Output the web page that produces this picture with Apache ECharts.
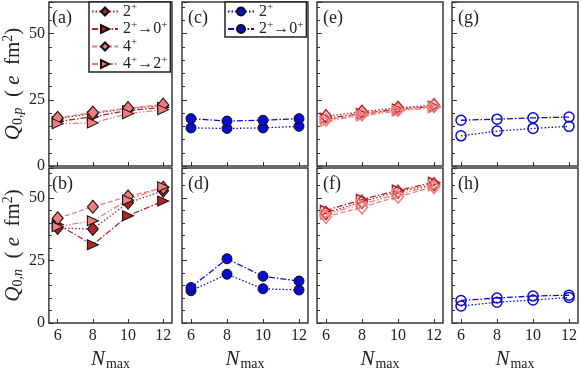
<!DOCTYPE html>
<html>
<head>
<meta charset="utf-8">
<script src="https://cdn.jsdelivr.net/npm/echarts@6/dist/echarts.min.js"></script>
<style>
html, body { margin: 0; padding: 0; background: #fff; }
#chart { width: 581px; height: 372px; }
</style>
</head>
<body>
<div id="chart"></div>
<script>
// N_max values and tick labels
const nmax = [6, 8, 10, 12];
const panelTags = ['(a)', '(c)', '(e)', '(g)', '(b)', '(d)', '(f)', '(h)'];

// proton quadrupole moments (top row)
const aQ2 = [17.9, 19.9, 21.7, 22.9];
const aQ20 = [16.8, 18.6, 21.0, 22.2];
const aQ4 = [18.2, 20.2, 21.9, 23.2];
const aQ42 = [16.0, 16.3, 19.8, 21.3];
const cQ2 = [14.4, 14.2, 14.4, 15.0];
const cQ20 = [17.9, 17.0, 17.3, 17.9];
const eQ2 = [18.8, 20.5, 22.0, 23.0];
const eQ20 = [18.0, 19.8, 21.5, 22.5];
const eQ4 = [17.5, 19.5, 21.2, 22.6];
const eQ42 = [17.0, 19.0, 20.8, 22.1];
const gQ2 = [11.4, 13.2, 14.2, 15.0];
const gQ20 = [17.3, 17.7, 18.2, 18.5];

// neutron quadrupole moments (bottom row)
const bQ2 = [38.0, 37.6, 48.1, 52.9];
const bQ20 = [39.4, 31.3, 42.9, 48.8];
const bQ4 = [41.9, 46.5, 50.6, 54.1];
const bQ42 = [38.5, 40.9, 49.2, 54.5];
const dQ2 = [12.9, 19.5, 13.7, 13.2];
const dQ20 = [14.2, 25.7, 18.7, 16.8];
const fQ2 = [44.0, 48.5, 52.5, 55.5];
const fQ20 = [45.0, 49.4, 53.1, 56.2];
const fQ4 = [42.5, 46.3, 50.6, 54.4];
const fQ42 = [43.5, 47.5, 51.5, 55.0];
const hQ2 = [6.8, 8.3, 9.2, 10.2];
const hQ20 = [9.0, 10.0, 10.8, 11.1];

const FONT = "'Liberation Serif', serif";
const INK = '#222';
const darkRed = '#b42328';
const lightRed = '#f07c7c';
const blue = '#0b0bd0';

const lefts = [46, 182, 317, 452];
const W = 126;

const grids = [], xAxes = [], yAxes = [], titles = [];
for (let r = 0; r < 2; r++) {
  for (let c = 0; c < 4; c++) {
    const gi = r * 4 + c;
    const top = r === 0 ? 2 : 168;
    const h = r === 0 ? 164 : 166;
    grids.push({ left: lefts[c], top: top, width: W, height: h, show: true,
      borderColor: '#3a3a3a', borderWidth: 1.5, backgroundColor: 'transparent' });
    xAxes.push({
      type: 'value', gridIndex: gi, min: 5.5, max: 12.5,
      axisLine: { show: false },
      splitLine: { show: false },
      axisTick: { show: true, inside: true, length: 4, customValues: nmax,
        lineStyle: { color: '#333', width: 1 } },
      axisLabel: { show: r === 1, customValues: nmax, fontFamily: FONT, fontSize: 16,
        color: INK, margin: 5 },
      name: r === 1 ? '{i|N}{s|max}' : '',
      nameLocation: 'middle', nameGap: 25,
      nameTextStyle: { rich: {
        i: { fontFamily: FONT, fontStyle: 'italic', fontSize: 21, color: INK },
        s: { fontFamily: FONT, fontSize: 14, color: INK, padding: [9, 0, 0, 1] }
      } }
    });
    yAxes.push({
      type: 'value', gridIndex: gi, min: 0, max: 62, interval: 25,
      axisLine: { show: false },
      splitLine: { show: false },
      axisTick: { show: true, inside: true, length: 5, lineStyle: { color: '#333', width: 1 } },
      minorTick: { show: true, splitNumber: 5, length: 3, lineStyle: { color: '#333', width: 1 } },
      axisLabel: { show: c === 0, showMaxLabel: false, fontFamily: FONT, fontSize: 16,
        color: INK, margin: 4 },
      name: c === 0 ? (r === 0 ? '{i|Q}{s|0,}{si|p}{t|  ( }{i|e}{t|  fm}{p|2}{t|)}'
                                : '{i|Q}{s|0,}{si|n}{t|  ( }{i|e}{t|  fm}{p|2}{t|)}') : '',
      nameLocation: 'middle', nameRotate: 90, nameGap: 20,
      nameTextStyle: { rich: {
        i: { fontFamily: FONT, fontStyle: 'italic', fontSize: 21, color: INK },
        t: { fontFamily: FONT, fontSize: 21, color: INK },
        s: { fontFamily: FONT, fontSize: 14, color: INK, padding: [10, 0, 0, 0] },
        si: { fontFamily: FONT, fontStyle: 'italic', fontSize: 14, color: INK, padding: [10, 0, 0, 0] },
        p: { fontFamily: FONT, fontSize: 14, color: INK, padding: [0, 0, 10, 0] }
      } }
    });
    titles.push({ text: panelTags[gi], left: lefts[c] + 6, top: top + 7, padding: 0,
      textStyle: { fontFamily: FONT, fontSize: 18, fontWeight: 'normal', color: INK } });
  }
}

const dotted = [1.5, 2];
const dashDot = [6, 2, 1.5, 2];
const dashed = [5, 2.5];
const dashDotDot = [6, 2, 1.5, 2, 1.5, 2];

// marker styles per state
function style(kind, color, open) {
  const diamond = kind === 'q2' || kind === 'q4';
  const tri = kind === 'q20' || kind === 'q42';
  return {
    symbol: diamond ? 'diamond' : tri ? 'triangle' : 'circle',
    symbolSize: diamond ? [11, 13] : tri ? [10, 11] : 10,
    symbolRotate: tri ? -90 : 0,
    lineStyle: { color: color, width: 1.3,
      type: kind === 'q2' || kind === 'c2' ? dotted : kind === 'q20' || kind === 'c20' ? dashDot :
        kind === 'q4' ? dashed : dashDotDot },
    itemStyle: open ? { color: 'rgba(255,255,255,0)', borderColor: color, borderWidth: 1.5 }
                    : { color: color, borderColor: '#111', borderWidth: 1 }
  };
}

function mk(name, gi, vals, kind, color, open, z) {
  const st = style(kind, color, open);
  return Object.assign({
    type: 'line', name: name, xAxisIndex: gi, yAxisIndex: gi,
    data: nmax.map((n, i) => [n, vals[i]]),
    showAllSymbol: true, z: z, animation: false
  }, st);
}

const series = [
  mk('a2', 0, aQ2, 'q2', darkRed, false, 2),
  mk('a20', 0, aQ20, 'q20', darkRed, false, 2),
  mk('a4', 0, aQ4, 'q4', lightRed, false, 3),
  mk('a42', 0, aQ42, 'q42', lightRed, false, 3),
  mk('c2', 1, cQ2, 'c2', blue, false, 2),
  mk('c20', 1, cQ20, 'c20', blue, false, 2),
  mk('e2', 2, eQ2, 'q2', darkRed, true, 2),
  mk('e20', 2, eQ20, 'q20', darkRed, true, 2),
  mk('e4', 2, eQ4, 'q4', lightRed, true, 3),
  mk('e42', 2, eQ42, 'q42', lightRed, true, 3),
  mk('g2', 3, gQ2, 'c2', blue, true, 2),
  mk('g20', 3, gQ20, 'c20', blue, true, 2),
  mk('b2', 4, bQ2, 'q2', darkRed, false, 2),
  mk('b20', 4, bQ20, 'q20', darkRed, false, 2),
  mk('b4', 4, bQ4, 'q4', lightRed, false, 3),
  mk('b42', 4, bQ42, 'q42', lightRed, false, 3),
  mk('d2', 5, dQ2, 'c2', blue, false, 2),
  mk('d20', 5, dQ20, 'c20', blue, false, 2),
  mk('f2', 6, fQ2, 'q2', darkRed, true, 2),
  mk('f20', 6, fQ20, 'q20', darkRed, true, 2),
  mk('f4', 6, fQ4, 'q4', lightRed, true, 3),
  mk('f42', 6, fQ42, 'q42', lightRed, true, 3),
  mk('h2', 7, hQ2, 'c2', blue, true, 2),
  mk('h20', 7, hQ20, 'c20', blue, true, 2)
];

const legendText = {
  a2: '2{p|+}', a20: '2{p|+}→0{p|+}', a4: '4{p|+}', a42: '4{p|+}→2{p|+}',
  c2: '2{p|+}', c20: '2{p|+}→0{p|+}'
};
const legendRich = {
  fontFamily: FONT, fontSize: 16, color: INK, lineHeight: 16,
  rich: { p: { fontFamily: FONT, fontSize: 11, color: INK, padding: [0, 0, 8, 0] } }
};
function legend(names, left) {
  return {
    data: names, orient: 'vertical', left: left, top: 2,
    itemWidth: 26, itemHeight: 10, itemGap: 0,
    padding: [0, 3, 0, 2],
    backgroundColor: '#fff', borderColor: '#222', borderWidth: 1.5, borderRadius: 0,
    selectedMode: false,
    formatter: n => legendText[n],
    textStyle: legendRich
  };
}

const chart = echarts.init(document.getElementById('chart'), null, { renderer: 'canvas' });
chart.setOption({
  backgroundColor: '#fff',
  animation: false,
  textStyle: { fontFamily: FONT },
  title: titles,
  grid: grids,
  xAxis: xAxes,
  yAxis: yAxes,
  legend: [legend(['a2', 'a20', 'a4', 'a42'], 89), legend(['c2', 'c20'], 225)],
  series: series
});
</script>
</body>
</html>
